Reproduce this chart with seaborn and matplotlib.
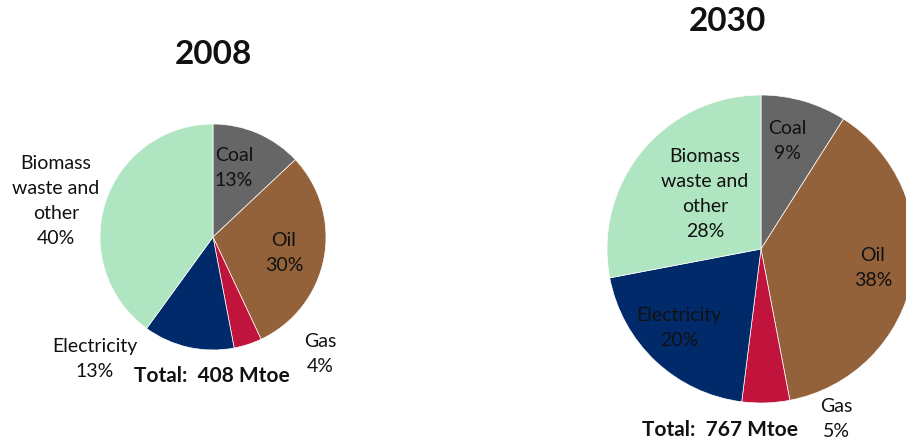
import matplotlib
matplotlib.use("Agg")
import matplotlib.pyplot as plt
import seaborn as sns

# data
sources = ["Coal", "Oil", "Gas", "Electricity", "Biomass\nwaste and\nother"]
share_2008 = [13, 30, 4, 13, 40]
share_2030 = [9, 38, 5, 20, 28]
total_2008 = 408
total_2030 = 767
colors = ["#666666", "#94623A", "#C1143D", "#002A6A", "#AFE5C0"]

sns.set_theme(style="white")
plt.rcParams['font.family'] = ['Lato', 'DejaVu Sans']

W, H = 906, 444
fig = plt.figure(figsize=(W / 100, H / 100), dpi=100)
ax = fig.add_axes([0, 0, 1, 1])

# pies in pixel coords (y flipped)
ax.pie(share_2008, colors=colors, startangle=90, counterclock=False,
       center=(213, H - 237), radius=113, frame=True,
       wedgeprops=dict(edgecolor="white", linewidth=0.5))
ax.pie(share_2030, colors=colors, startangle=90, counterclock=False,
       center=(761, H - 249), radius=154, frame=True,
       wedgeprops=dict(edgecolor="white", linewidth=0.5))
ax.set_xlim(0, W)
ax.set_ylim(0, H)
ax.set_aspect("equal")
ax.axis("off")

lbl = dict(ha="center", va="center", fontsize=14, linespacing=1.58, color="#111111")

def label(x, y, i, vals):
    ax.text(x, H - y, f"{sources[i]}\n{vals[i]}%", **lbl)

# 2008 labels
label(234, 168, 0, share_2008)
label(284, 253, 1, share_2008)
label(320, 354, 2, share_2008)
label(95, 359, 3, share_2008)
label(56, 201, 4, share_2008)
ax.text(212, H - 376, f"Total:  {total_2008} Mtoe", ha="center", va="center",
        fontsize=15, fontweight="bold", color="#111111")
ax.text(213, H - 55, "2008", ha="center", va="center", fontsize=24,
        fontweight="bold", color="#111111")

# 2030 labels
label(787, 141, 0, share_2030)
label(873, 268, 1, share_2030)
label(836, 419, 2, share_2030)
label(679, 328, 3, share_2030)
label(705, 194, 4, share_2030)
ax.text(720, H - 430, f"Total:  {total_2030} Mtoe", ha="center", va="center",
        fontsize=15, fontweight="bold", color="#111111")
ax.text(727, H - 22, "2030", ha="center", va="center", fontsize=24,
        fontweight="bold", color="#111111")

fig.savefig("out.png", dpi=100)
